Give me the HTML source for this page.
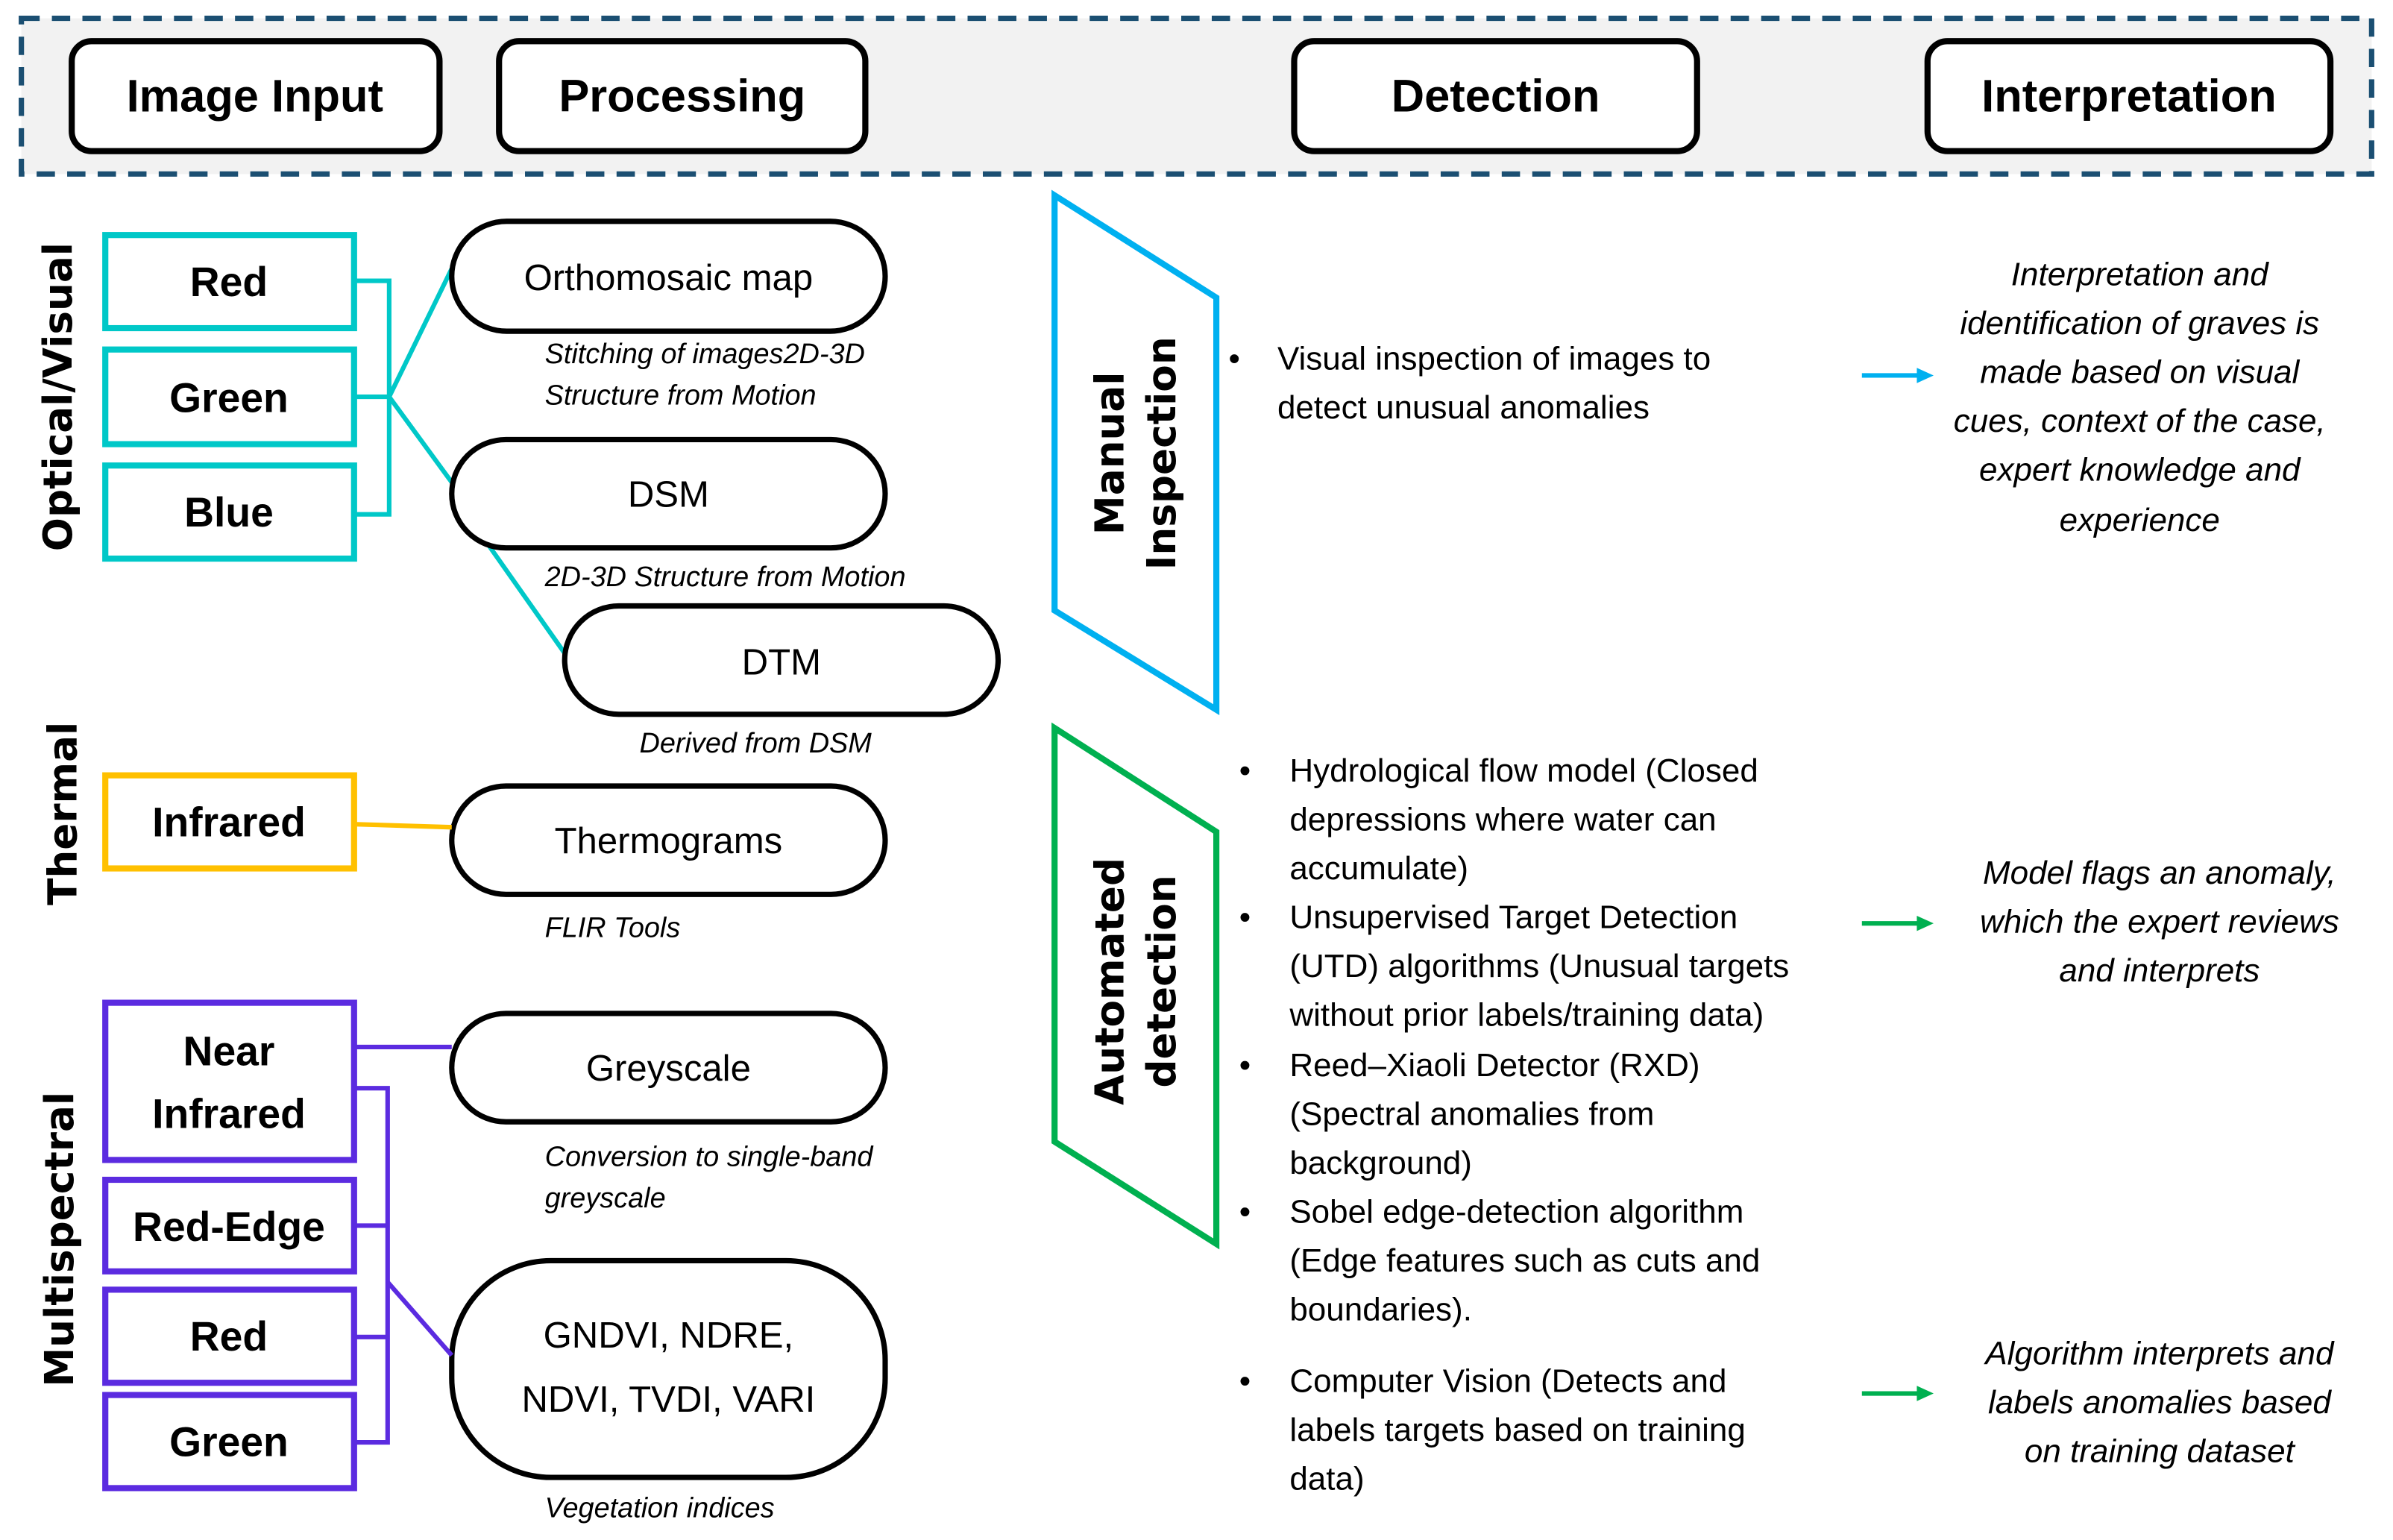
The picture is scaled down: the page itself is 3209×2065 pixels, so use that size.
<!DOCTYPE html>
<html><head><meta charset="utf-8"><style>
html,body{margin:0;padding:0;background:#fff;width:3209px;height:2065px;overflow:hidden}
svg{display:block}
text{font-family:"Liberation Sans",sans-serif;fill:#000}
.h{font-weight:bold;font-size:30px}
.b{font-weight:bold;font-size:27px}
.n{font-size:24px}
.i{font-style:italic;font-size:18.5px}
.t{font-size:21.5px}
.it{font-style:italic;font-size:21.5px}
.v{font-family:"DejaVu Sans",sans-serif;font-weight:bold;font-size:26px}
</style></head><body>
<svg width="3209" height="2065" viewBox="0 0 1568 1009" xmlns="http://www.w3.org/2000/svg">
<rect x="14" y="12" width="1540" height="102" fill="#f2f2f2" stroke="#1b4f72" stroke-width="3.5" stroke-dasharray="12,8"/>
<g fill="#fff" stroke="#000" stroke-width="4">
<rect x="47" y="27" width="241" height="72" rx="13"/>
<rect x="327" y="27" width="240" height="72" rx="13"/>
<rect x="848" y="27" width="264" height="72" rx="13"/>
<rect x="1263" y="27" width="264" height="72" rx="13"/>
</g>
<g class="h" text-anchor="middle">
<text x="167" y="73" class="h">Image Input</text>
<text x="447" y="73" class="h">Processing</text>
<text x="980" y="73" class="h">Detection</text>
<text x="1395" y="73" class="h">Interpretation</text>
</g>
<text class="v" text-anchor="middle" transform="translate(47,260) rotate(-90)">Optical/Visual</text>
<text class="v" text-anchor="middle" transform="translate(50,533) rotate(-90)">Thermal</text>
<text class="v" text-anchor="middle" transform="translate(48,812) rotate(-90)">Multispectral</text>
<g fill="none" stroke="#00c8c8" stroke-width="3">
<polyline points="232,184 255,184 255,337 232,337"/>
<line x1="232" y1="260" x2="255" y2="260"/>
<line x1="255" y1="260" x2="296" y2="176"/>
<line x1="255" y1="260" x2="296" y2="316"/>
<line x1="320" y1="357" x2="370" y2="428"/>
</g>
<g fill="#fff" stroke="#00c8c8" stroke-width="4">
<rect x="69" y="154" width="163" height="61"/>
<rect x="69" y="229" width="163" height="62"/>
<rect x="69" y="305" width="163" height="61"/>
</g>
<g text-anchor="middle" class="b">
<text x="150" y="194" class="b">Red</text>
<text x="150" y="270" class="b">Green</text>
<text x="150" y="345" class="b">Blue</text>
</g>
<g fill="#fff" stroke="#000" stroke-width="3.5">
<rect x="296" y="145" width="284" height="72" rx="36"/>
<rect x="296" y="288" width="284" height="71" rx="35.5"/>
<rect x="370" y="397" width="284" height="71" rx="35.5"/>
<rect x="296" y="515" width="284" height="71" rx="35.5"/>
<rect x="296" y="664" width="284" height="71" rx="35.5"/>
<rect x="296" y="826" width="284" height="142" rx="65"/>
</g>
<g text-anchor="middle" class="n">
<text x="438" y="190" class="n">Orthomosaic map</text>
<text x="438" y="332" class="n">DSM</text>
<text x="512" y="442" class="n">DTM</text>
<text x="438" y="559" class="n">Thermograms</text>
<text x="438" y="708" class="n">Greyscale</text>
<text x="438" y="883" class="n">GNDVI, NDRE,</text>
<text x="438" y="925" class="n">NDVI, TVDI, VARI</text>
</g>
<g class="i">
<text x="357" y="238" class="i">Stitching of images2D-3D</text>
<text x="357" y="265" class="i">Structure from Motion</text>
<text x="357" y="384" class="i">2D-3D Structure from Motion</text>
<text x="419" y="493" class="i">Derived from DSM</text>
<text x="357" y="614" class="i">FLIR Tools</text>
<text x="357" y="764" class="i">Conversion to single-band</text>
<text x="357" y="791" class="i">greyscale</text>
<text x="357" y="994" class="i">Vegetation indices</text>
</g>
<line x1="232" y1="540" x2="296" y2="542" stroke="#ffc000" stroke-width="3"/>
<rect x="69" y="508" width="163" height="61" fill="#fff" stroke="#ffc000" stroke-width="4"/>
<text x="150" y="548" text-anchor="middle" class="b">Infrared</text>
<g fill="none" stroke="#5b2be0" stroke-width="3">
<line x1="232" y1="686" x2="296" y2="686"/>
<polyline points="232,713 254,713 254,945 232,945"/>
<line x1="232" y1="803" x2="254" y2="803"/>
<line x1="232" y1="876" x2="254" y2="876"/>
<line x1="254" y1="840" x2="296" y2="888"/>
</g>
<g fill="#fff" stroke="#5b2be0" stroke-width="4">
<rect x="69" y="657" width="163" height="103"/>
<rect x="69" y="773" width="163" height="60"/>
<rect x="69" y="845" width="163" height="61"/>
<rect x="69" y="914" width="163" height="61"/>
</g>
<g text-anchor="middle" class="b">
<text x="150" y="698" class="b">Near</text>
<text x="150" y="739" class="b">Infrared</text>
<text x="150" y="813" class="b">Red-Edge</text>
<text x="150" y="885" class="b">Red</text>
<text x="150" y="954" class="b">Green</text>
</g>
<polygon points="691,128 797,195 797,465 691,400" fill="#fff" stroke="#00b0f0" stroke-width="4"/>
<polygon points="691,477 797,545 797,815 691,748" fill="#fff" stroke="#00b050" stroke-width="4"/>
<text class="v" text-anchor="middle" transform="translate(742,297) rotate(-90)"><tspan x="0" y="-6">Manual</tspan><tspan x="0" y="28">Inspection</tspan></text>
<text class="v" text-anchor="middle" transform="translate(742,643) rotate(-90)"><tspan x="0" y="-6">Automated</tspan><tspan x="0" y="28">detection</tspan></text>
<g class="t">
<text x="805" y="242" class="t">•</text>
<text x="837" y="242" class="t">Visual inspection of images to</text>
<text x="837" y="274" class="t">detect unusual anomalies</text>
<text x="812" y="512" class="t">•</text>
<text x="845" y="512" class="t">Hydrological flow model (Closed</text>
<text x="845" y="544" class="t">depressions where water can</text>
<text x="845" y="576" class="t">accumulate)</text>
<text x="812" y="608" class="t">•</text>
<text x="845" y="608" class="t">Unsupervised Target Detection</text>
<text x="845" y="640" class="t">(UTD) algorithms (Unusual targets</text>
<text x="845" y="672" class="t">without prior labels/training data)</text>
<text x="812" y="705" class="t">•</text>
<text x="845" y="705" class="t">Reed–Xiaoli Detector (RXD)</text>
<text x="845" y="737" class="t">(Spectral anomalies from</text>
<text x="845" y="769" class="t">background)</text>
<text x="812" y="801" class="t">•</text>
<text x="845" y="801" class="t">Sobel edge-detection algorithm</text>
<text x="845" y="833" class="t">(Edge features such as cuts and</text>
<text x="845" y="865" class="t">boundaries).</text>
<text x="812" y="912" class="t">•</text>
<text x="845" y="912" class="t">Computer Vision (Detects and</text>
<text x="845" y="944" class="t">labels targets based on training</text>
<text x="845" y="976" class="t">data)</text>
</g>
<g stroke-width="3">
<line x1="1220" y1="246" x2="1258" y2="246" stroke="#00b0f0"/>
<polygon points="1256,241 1267,246 1256,251" fill="#00b0f0"/>
<line x1="1220" y1="605" x2="1258" y2="605" stroke="#00b050"/>
<polygon points="1256,600 1267,605 1256,610" fill="#00b050"/>
<line x1="1220" y1="913" x2="1258" y2="913" stroke="#00b050"/>
<polygon points="1256,908 1267,913 1256,918" fill="#00b050"/>
</g>
<g text-anchor="middle" class="it">
<text x="1402" y="187" class="it">Interpretation and</text>
<text x="1402" y="219" class="it">identification of graves is</text>
<text x="1402" y="251" class="it">made based on visual</text>
<text x="1402" y="283" class="it">cues, context of the case,</text>
<text x="1402" y="315" class="it">expert knowledge and</text>
<text x="1402" y="348" class="it">experience</text>
<text x="1415" y="579" class="it">Model flags an anomaly,</text>
<text x="1415" y="611" class="it">which the expert reviews</text>
<text x="1415" y="643" class="it">and interprets</text>
<text x="1415" y="894" class="it">Algorithm interprets and</text>
<text x="1415" y="926" class="it">labels anomalies based</text>
<text x="1415" y="958" class="it">on training dataset</text>
</g>
</svg>
</body></html>
